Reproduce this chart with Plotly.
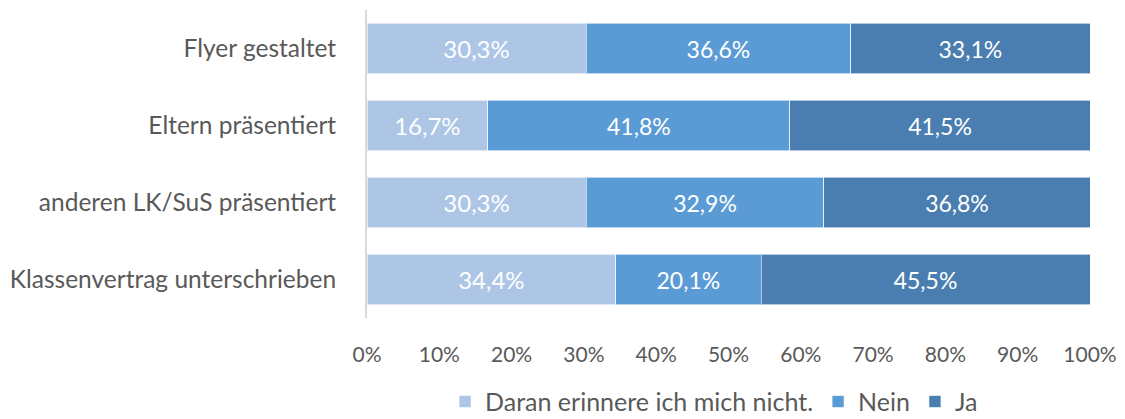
import plotly.graph_objects as go

categories = ['Flyer gestaltet', 'Eltern präsentiert', 'anderen LK/SuS präsentiert', 'Klassenvertrag unterschrieben']
vergessen = [30.3, 16.7, 30.3, 34.4]
nein = [36.6, 41.8, 32.9, 20.1]
ja = [33.1, 41.5, 36.8, 45.5]
series_names = ['Daran erinnere ich mich nicht.', 'Nein', 'Ja']
tick_vals = [0, 10, 20, 30, 40, 50, 60, 70, 80, 90, 100]
tick_text = [str(v) + '%' for v in tick_vals]

colors = ['#adc6e6', '#5b9bd5', '#4a7eb0']
label_sizes = [24, 23, 23]
font_fam = 'Lato, Open Sans, sans-serif'

fig = go.Figure()
for name, vals, color, fs in zip(series_names, [vergessen, nein, ja], colors, label_sizes):
  fig.add_trace(go.Bar(y = categories, x = vals, name = name, orientation = 'h',
                  marker = dict(color = color, line = dict(color = 'rgba(255,255,255,0.6)', width = 1)),
                  text = [('%.1f%%' % v).replace('.', ',') for v in vals], textposition = 'inside',
                  insidetextanchor = 'middle', textangle = 0,
                  textfont = dict(family = font_fam, size = fs, color = 'white')))

# page body has an 8px margin, so the margins below are shifted by that
fig.update_xaxes(range = [0, 100], tickmode = 'array', tickvals = tick_vals, ticktext = tick_text,
           tickfont = dict(family = font_fam, size = 21, color = '#595959'),
           showgrid = False, zeroline = False, showline = False, ticks = '', ticklabelstandoff = 22,
           automargin = False)
fig.update_yaxes(autorange = 'reversed', showline = True, linecolor = '#d9d9d9', linewidth = 2,
           tickfont = dict(family = font_fam, size = 24.5, color = '#595959'),
           showgrid = False, ticks = '', ticklabelstandoff = 24, automargin = False)

fig.update_layout(barmode = 'stack', bargap = 0.35, plot_bgcolor = 'white', paper_bgcolor = 'white',
           width = 1125, height = 419, margin = dict(l = 359, r = 43, t = 2, b = 105),
           uniformtext = dict(mode = False),
           legend = dict(orientation = 'h', traceorder = 'normal', yanchor = 'middle', y = -0.272,
                         xanchor = 'center', x = 0.48,
                         font = dict(family = font_fam, size = 25, color = '#595959'), itemwidth = 30),
           showlegend = True)

fig.write_html("out.html")
